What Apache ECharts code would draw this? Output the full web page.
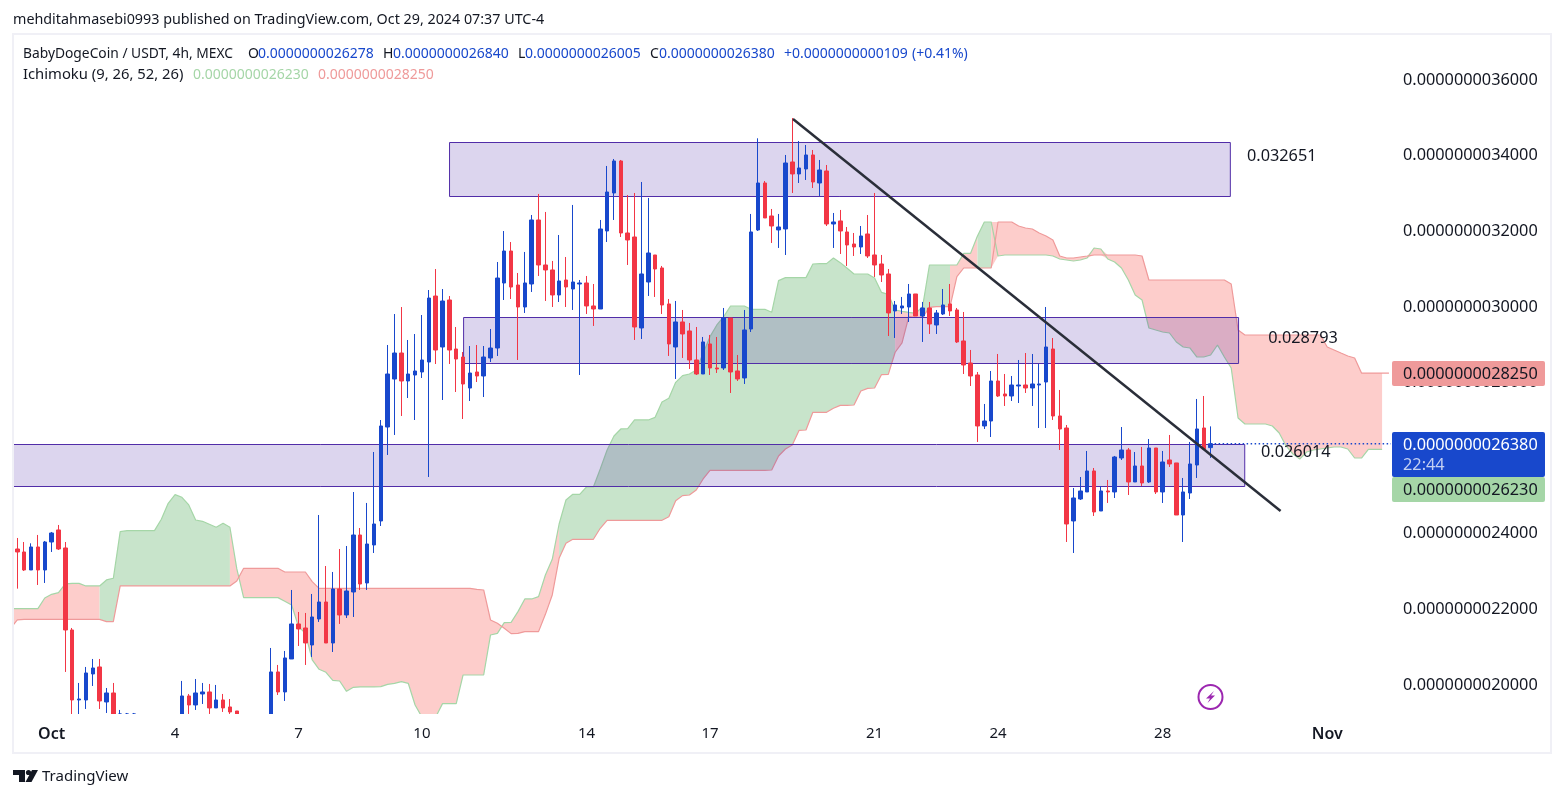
<!DOCTYPE html>
<html>
<head>
<meta charset="utf-8">
<title>BabyDogeCoin / USDT</title>
<script src="https://cdn.jsdelivr.net/npm/echarts@6/dist/echarts.min.js"></script>
<style>
  html, body { margin: 0; padding: 0; background: #fff; }
  #chart { width: 1564px; height: 798px; }
</style>
</head>
<body>
<div id="chart"></div>
<script>
// prices are in units of 1e-13 USDT, x is the bar number (4h bars, bar 5 = Oct 1)
// null = bar sits fully under the visible price range, nothing to read
const candleOpen = [
  23597,23518,23042,23650,23042,23782,24100,23624,21455,19604,
  19604,20292,20477,19551,19789,18900,18900,19100,null,null,
  null,null,null,null,19000,19710,19472,19763,19816,19393,
  19604,19419,19313,null,null,null,null,19000,20345,19816,
  20688,21614,21508,21058,21746,22195,21111,22539,21852,22460,
  23967,22698,23703,24338,26823,28092,28780,28040,28198,28278,
  28542,30287,28939,30182,28886,28674,27854,28278,28172,28648,
  28912,30631,31477,30578,29997,30605,32298,31108,30976,30315,
  30711,30473,30605,30632,30024,29944,32007,33012,33858,31954,
  31848,29442,30658,31372,31029,30077,28939,29601,29363,28596,
  28225,29019,28384,28384,29706,28305,28120,29415,32034,33276,
  32404,32034,32060,33832,33515,33647,34017,33276,33594,32192,
  32272,31981,31663,31584,31928,31373,31134,30870,29892,29971,
  29997,30341,29759,29971,29521,29812,30077,29918,29098,28516,
  28199,26850,26982,28040,27696,27643,27908,27934,27855,27934,
  28013,28886,27114,26797,24338,24919,25105,25660,24602,25131,
  25105,26004,26215,25369,25792,25369,26268,25105,25951,25872,
  24496,25078,25818,26797,26278
]
const candleClose = [
  23518,23042,23650,23042,23782,24020,23597,21455,19604,19630,
  20318,20450,19578,19789,19000,19100,19050,18900,null,null,
  null,null,null,null,19710,19472,19789,19816,19393,19604,
  19393,19287,19100,null,null,null,null,20345,19816,20715,
  21614,21482,21112,21799,22195,21111,22539,21852,22486,23967,
  22671,23729,24258,26850,28225,28780,28040,28225,28304,28595,
  30234,28859,30155,28859,28621,27960,28251,28172,28674,28912,
  30763,31477,30525,29997,30632,32298,31108,30976,30315,30685,
  30526,30658,30632,30024,29944,32060,33038,33858,31954,31769,
  29468,30870,31425,31002,30050,29019,29601,29283,28596,28225,
  29072,28384,28358,29706,28278,28093,29389,31981,33276,32351,
  32139,32113,33805,33515,33673,34017,33303,33620,32192,32245,
  32007,31637,31584,31875,31346,31108,30843,29839,30050,30024,
  30341,29759,29971,29548,29839,30050,29892,29072,28463,28172,
  26850,26982,28040,27643,27643,27934,27934,27855,27961,27961,
  28939,27114,26771,24258,24946,25131,25660,24576,25131,25105,
  26030,26215,25369,25792,25343,26268,25105,25898,25845,24496,
  25105,25845,26771,26242,26380
]
const candleLow = [
  22548,23016,23042,22645,22698,23518,23571,20345,19000,19000,
  19366,19974,19366,19260,18900,18800,18800,18800,null,null,
  null,null,null,null,18900,19234,19340,19498,19234,19393,
  19287,19234,19000,null,null,null,null,18900,19736,19578,
  20688,21032,20530,20741,21667,21111,20873,21614,21772,21799,
  22513,22513,23491,24205,26083,26612,27114,27590,27008,28119,
  25501,28489,27537,28489,27749,27035,27511,28013,27616,28542,
  28701,30182,30208,28595,29839,30394,30817,30156,29997,30129,
  29997,29918,28199,29812,29495,29944,31716,32298,31848,31108,
  29125,29151,30288,30262,29812,28702,28093,28649,28358,28199,
  28225,28199,28252,28331,27723,28040,27961,29336,32007,32351,
  31690,31558,31372,33012,33276,33356,33144,32933,32139,31558,
  31399,31082,31346,31399,31293,30791,30658,29230,29178,29812,
  29601,29759,29072,29283,29283,29785,29759,29045,28225,27908,
  26427,26771,26559,27617,27379,27511,27458,27723,27379,26797,
  26797,27009,26215,23782,23491,24893,25105,24470,24602,24814,
  24946,25951,25025,25369,25263,25343,25052,24814,25766,24496,
  23782,24919,25475,26242,26005
]
const candleHigh = [
  23888,23782,23747,23968,23809,24047,24232,23782,21508,20054,
  20477,20688,20688,19921,20054,19340,19260,19260,null,null,
  null,null,null,null,20107,19763,20159,20054,20027,20001,
  19763,19630,19313,null,null,null,null,20979,20530,20900,
  22513,21931,21905,22407,24496,23147,22989,23597,23676,25104,
  24152,24814,26162,27008,28992,29811,29996,29124,29282,29785,
  30446,31001,30472,30287,29468,28806,28965,28992,28965,29415,
  31187,32006,31715,30896,31452,32430,32986,32510,31214,31901,
  31319,32695,30711,30817,30605,32298,33726,33911,33885,32959,
  33012,33303,32880,31372,31082,30209,30156,29918,29574,29468,
  29204,29257,29204,29971,29706,28728,29918,32457,34458,33329,
  32589,32457,34017,34995,34387,34281,34149,33885,33752,32483,
  32563,32113,31954,32139,32430,33012,31373,31002,30156,30262,
  30605,30341,30129,30129,29918,30473,30605,29971,29865,28860,
  28278,27432,28304,28754,28225,28172,28595,28780,28754,28489,
  29997,29177,27802,26876,25210,25501,26189,25739,25263,25422,
  26057,26823,26268,26162,26295,26506,26268,26189,26612,25872,
  25475,26427,27564,27643,26840
]

// ichimoku spans, first value is bar -1 (starts left of the pane)
const cloudFirstBar = -1
const spanA = [
  22019,22019,22019,22019,22019,22301,22398,22442,22672,22689,22689,
  22619,22619,22619,22778,22822,24056,24082,24082,24082,24082,
  24082,24382,24805,25034,24964,24761,24364,24329,24250,24170,
  24276,24170,23077,22310,22310,22310,22310,22310,22310,22213,
  22116,21543,21367,20662,20415,20336,20124,20106,19833,19939,
  19948,19948,19948,19956,20018,20045,20088,20045,19472,19150,
  19150,19150,19507,19507,19507,20265,20265,20265,20265,21323,
  21367,21649,21658,21940,22275,22275,22337,22910,23324,24258,
  24893,25043,25043,25237,25237,25713,26215,26585,26771,26779,
  27009,27009,27009,27079,27485,27582,28005,28181,28225,28331,
  28772,29212,29521,29741,30023,30023,30023,29936,29936,29936,
  29856,30694,30773,30773,30773,30773,31134,31143,31143,31293,
  31170,31020,30870,30870,30870,30764,30385,30332,29918,29883,
  29856,29830,30006,31108,31108,31108,31108,31108,31416,31416,
  31874,32245,32245,31345,31372,31372,31372,31372,31372,31372,
  31372,31345,31266,31240,31213,31240,31293,31557,31531,31266,
  31187,31028,30711,30314,30182,29441,29388,29336,29309,29071,
  28939,28912,28674,28674,28727,28992,28674,28384,27061,26903,
  26903,26903,26903,26850,26665,26321,26109,25977,26162,26215,
  26241,26268,26294,26294,26241,26003,26003,26230,26230,26230
]
const spanB = [
  21499,21720,21737,21737,21737,21737,21737,21737,21737,21737,21737,
  21737,21737,21737,21676,21676,22619,22619,22619,22619,22619,
  22619,22619,22619,22619,22619,22619,22619,22619,22619,22619,
  22619,22619,22751,23086,23086,23086,23086,23086,23086,22989,
  22989,22989,22989,22733,22557,22557,22557,22557,22557,22557,
  22557,22557,22557,22557,22557,22557,22557,22557,22557,22557,
  22557,22557,22557,22557,22557,22557,22557,22530,22513,21719,
  21631,21499,21358,21367,21411,21411,21411,21869,22381,23350,
  23747,23853,23853,23853,23853,24144,24355,24355,24355,24355,
  24355,24355,24355,24355,24355,24452,24875,25008,25025,25157,
  25448,25678,25678,25678,25678,25678,25678,25678,25678,25678,
  25686,26057,26242,26348,26735,26744,27211,27211,27211,27317,
  27396,27396,27405,27776,27846,27855,28207,28216,28800,29050,
  29750,29724,29724,29988,30006,30006,30006,30800,31028,31028,
  31028,31028,31028,32245,32245,32245,32139,32086,32060,31954,
  31874,31769,31345,31293,31293,31319,31345,31372,31372,31372,
  31372,31372,31372,31372,31345,30711,30711,30711,30711,30711,
  30711,30711,30711,30711,30711,30711,30711,30605,29388,29256,
  29256,29256,29256,29256,29256,29256,29256,29256,29256,29256,
  29256,28939,28860,28780,28701,28648,28250,28250,28250,28250,28250
]
// fill colour does not follow the line order on this chart, it flips on these bars
// last range fills between upper and lower span so the flip at bar 142 has no pinch
const cloudRanges = [
  [-1, 12, 'r'], [12, 31, 'g'], [31, 79, 'r'], [79, 128, 'g'], [128, 132, 'r'],
  [132, 136, 'g'], [136, 140, 'r'], [140, 142, 'g'], [142, 199, 'r', true]
]

// drawn boxes: first bar, last bar, top price, bottom price
const zones = [
  [62.95, 176.8, 34360, 32933],
  [65.0, 178.0, 29732, 28516],
  [-5, 178.9, 26373, 25263]
]
const zoneLabelNames = ['0.032651', '0.028793', '0.026014']
const zoneLabelBars = [179.3, 182.4, 181.35]
const zoneLabelPrices = [33990, 29177, 26162]
const trendBars = [113.1, 184.2]
const trendPrices = [34969, 24602]

const lastBar = 174
const lastClose = 26380
const priceMin = 19233
const priceMax = 37190
const priceTicks = [36000, 34000, 32000, 30000, 28000, 26000, 24000, 22000, 20000]
const dayTicks = [5, 23, 41, 59, 83, 101, 125, 143, 167, 191]
const dayLabels = ['Oct', '4', '7', '10', '14', '17', '21', '24', '28', 'Nov']

const UP = '#1848cc'
const DOWN = '#f23645'
const TEXT = '#131722'
const FONT = '"Noto Sans"'

// candlestick only drops bars that are fully out of the pane, so stop the rest at its bottom
const atPane = (v) => Math.max(v, priceMin)
const candles = []
candleOpen.forEach((o, i) => {
  if (o === null) return
  candles.push([i, atPane(o), atPane(candleClose[i]), atPane(candleLow[i]), candleHigh[i]])
})
const lineA = spanA.map((v, i) => [i + cloudFirstBar, v])
const lineB = spanB.map((v, i) => [i + cloudFirstBar, v])

const renderCloud = (params, api) => {
  const r = cloudRanges[params.dataIndex]
  const top = []
  const bottom = []
  for (let bar = r[0]; bar <= r[1]; bar++) {
    const a = spanA[bar - cloudFirstBar]
    const b = spanB[bar - cloudFirstBar]
    top.push(api.coord([bar, r[3] ? Math.max(a, b) : a]))
    bottom.unshift(api.coord([bar, r[3] ? Math.min(a, b) : b]))
  }
  return {
    type: 'polygon',
    shape: { points: top.concat(bottom) },
    style: { fill: r[2] === 'g' ? '#c8e4cb' : '#fdcdcb' }
  }
}

const renderZone = (params, api) => {
  const z = zones[params.dataIndex]
  const a = api.coord([z[0], z[2]])
  const b = api.coord([z[1], z[3]])
  return {
    type: 'rect',
    shape: { x: a[0] + 0.5, y: Math.round(a[1]) + 0.5, width: b[0] - a[0], height: Math.round(b[1] - a[1]) },
    style: { fill: 'rgba(81,45,168,0.2)', stroke: '#512da8', lineWidth: 1 }
  }
}

// header and footer text, all placed by hand like the published image
const txt = (x, y, text, fill, size, extra) => ({
  type: 'text',
  x: x,
  y: y,
  z: 100,
  style: Object.assign({ text: text, fill: fill, font: (size || 14) + 'px ' + FONT, textVerticalAlign: 'middle' }, extra || {})
})

const graphics = [
  // bottom edge of the candle pane
  { type: 'rect', z: 80, shape: { x: 13, y: 714, width: 1378, height: 8 }, style: { fill: '#ffffff' } },
  // outer frame
  { type: 'rect', z: 90, shape: { x: 13, y: 34, width: 1538, height: 719 }, style: { fill: 'none', stroke: '#f0f0f6', lineWidth: 2 } },
  txt(13, 20, 'mehditahmasebi0993 published on TradingView.com, Oct 29, 2024 07:37 UTC-4', TEXT, 14.32),
  txt(23, 54.5, 'BabyDogeCoin / USDT, 4h, MEXC', TEXT, 13.8),
  txt(248, 54.5, 'O', TEXT),
  txt(258, 54.5, '0.0000000026278', UP),
  txt(383, 54.5, 'H', TEXT),
  txt(393, 54.5, '0.0000000026840', UP),
  txt(518, 54.5, 'L', TEXT),
  txt(525, 54.5, '0.0000000026005', UP),
  txt(650, 54.5, 'C', TEXT),
  txt(659, 54.5, '0.0000000026380', UP),
  txt(784, 54.5, '+0.0000000000109', UP),
  txt(912, 54.5, '(+0.41%)', UP),
  txt(23, 75, 'Ichimoku (9, 26, 52, 26)', TEXT, 14.8),
  txt(193, 75, '0.0000000026230', '#a5d6a7'),
  txt(318, 75, '0.0000000028250', '#ef9a9a'),
  // price tags on the scale
  { type: 'rect', z: 95, shape: { x: 1392, y: 361, width: 153, height: 25, r: 2 }, style: { fill: '#ef9a9a' } },
  txt(1403, 374.5, '0.0000000028250', TEXT, 16.3),
  { type: 'rect', z: 95, shape: { x: 1392, y: 432, width: 153, height: 45, r: 2 }, style: { fill: UP } },
  txt(1403, 445, '0.0000000026380', '#ffffff', 16.3),
  txt(1403, 465, '22:44', '#c3d0f3', 16.3),
  { type: 'rect', z: 95, shape: { x: 1392, y: 477, width: 153, height: 25, r: 2 }, style: { fill: '#a5d6a7' } },
  txt(1403, 490.5, '0.0000000026230', TEXT, 16.3),
  // bolt marker
  { type: 'circle', z: 95, shape: { cx: 1210.5, cy: 697, r: 12 }, style: { fill: 'none', stroke: '#9c27b0', lineWidth: 2 } },
  { type: 'polygon', z: 95, shape: { points: [[1214, 691], [1206, 698.5], [1210, 698.5], [1207.5, 703], [1215, 695.5], [1211, 695.5]] }, style: { fill: '#9c27b0' } },
  // TradingView mark
  { type: 'polygon', z: 95, shape: { points: [[13, 770], [25, 770], [25, 782], [19, 782], [19, 775], [13, 775]] }, style: { fill: TEXT } },
  { type: 'circle', z: 95, shape: { cx: 28.5, cy: 772.5, r: 2.6 }, style: { fill: TEXT } },
  { type: 'polygon', z: 95, shape: { points: [[32, 770], [38, 770], [31.5, 782], [25.5, 782]] }, style: { fill: TEXT } },
  txt(42, 777, 'TradingView', TEXT, 15)
]

const chart = echarts.init(document.getElementById('chart'), null, { renderer: 'canvas' })
chart.setOption({
  animation: false,
  backgroundColor: '#ffffff',
  textStyle: { fontFamily: FONT },
  grid: { left: 13, top: 35, width: 1378, height: 679 },
  xAxis: {
    type: 'value',
    min: -0.63,
    max: 200.3,
    splitLine: { show: false },
    axisLine: { show: false },
    axisTick: { show: false },
    axisLabel: {
      customValues: dayTicks,
      color: TEXT,
      fontSize: 15,
      margin: 12,
      formatter: (v) => {
        const s = dayLabels[dayTicks.indexOf(v)]
        return s === 'Oct' || s === 'Nov' ? '{b|' + s + '}' : s
      },
      rich: { b: { fontWeight: 600, fontSize: 16, color: TEXT, fontFamily: FONT } }
    }
  },
  yAxis: {
    type: 'value',
    position: 'right',
    min: priceMin,
    max: priceMax,
    splitLine: { show: false },
    axisLine: { show: false },
    axisTick: { show: false },
    axisLabel: {
      customValues: priceTicks,
      color: TEXT,
      fontSize: 16.3,
      margin: 12,
      padding: [6, 0, 0, 0],
      formatter: (v) => '0.00000000' + v
    }
  },
  series: [
    {
      name: 'cloud',
      type: 'custom',
      clip: true,
      z: 1,
      silent: true,
      renderItem: renderCloud,
      encode: { x: [0, 1] },
      data: cloudRanges.map((r) => [r[0], r[1]])
    },
    {
      name: 'Span A',
      type: 'line',
      z: 2,
      data: lineA,
      showSymbol: false,
      silent: true,
      lineStyle: { color: '#a5d6a7', width: 1.2 }
    },
    {
      name: 'Span B',
      type: 'line',
      z: 2,
      data: lineB,
      showSymbol: false,
      silent: true,
      lineStyle: { color: '#ef9a9a', width: 1.2 }
    },
    {
      name: 'zones',
      type: 'custom',
      clip: true,
      z: 3,
      silent: true,
      renderItem: renderZone,
      encode: { x: [0, 1] },
      data: zones.map((z) => [z[0], z[1]])
    },
    {
      name: 'BabyDogeCoin / USDT',
      type: 'candlestick',
      z: 4,
      barWidth: 4,
      encode: { x: 0, y: [1, 2, 3, 4] },
      data: candles,
      itemStyle: { color: UP, color0: DOWN, borderColor: UP, borderColor0: DOWN, borderWidth: 1 }
    },
    {
      name: 'last',
      type: 'line',
      z: 5,
      silent: true,
      showSymbol: false,
      data: [[lastBar, lastClose], [200.3, lastClose]],
      lineStyle: { color: UP, width: 1.3, type: [1.5, 2.5] }
    },
    {
      name: 'trend',
      type: 'line',
      z: 6,
      silent: true,
      showSymbol: false,
      data: trendBars.map((b, i) => [b, trendPrices[i]]),
      lineStyle: { color: '#2a2e39', width: 2.5 }
    },
    {
      name: 'zone labels',
      type: 'scatter',
      z: 7,
      silent: true,
      symbolSize: 0,
      itemStyle: { opacity: 1 },
      data: zoneLabelNames.map((n, i) => ({ value: [zoneLabelBars[i], zoneLabelPrices[i]], name: n })),
      label: { show: true, position: 'right', distance: 0, formatter: '{b}', color: TEXT, fontSize: 16.3, fontFamily: FONT }
    }
  ],
  graphic: { elements: graphics }
})
</script>
</body>
</html>
